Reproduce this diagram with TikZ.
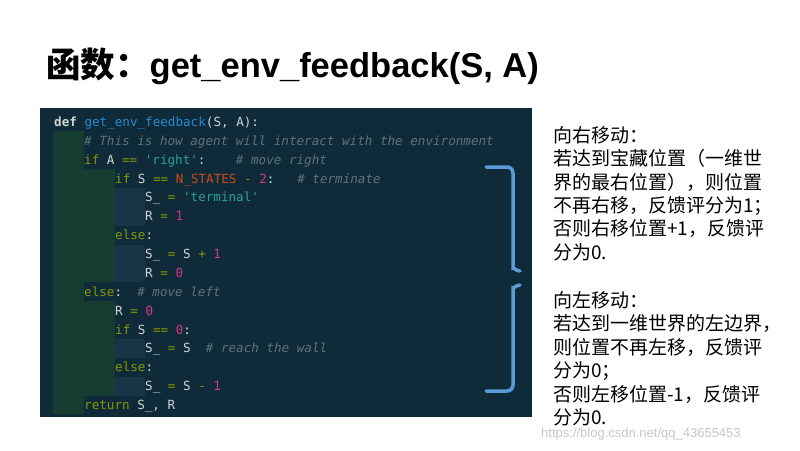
\documentclass[tikz,border=0pt]{standalone}
\usepackage{fontspec}
\setmainfont{Liberation Sans}
\setmonofont{DejaVu Sans Mono}
\newfontfamily\cjk{Noto Sans CJK SC}
\definecolor{bgc}{HTML}{0F2B3A}
\definecolor{gcol}{HTML}{173D33}
\definecolor{bcol}{HTML}{1A3447}
\definecolor{kw}{HTML}{859900}
\definecolor{fn}{HTML}{268BD2}
\definecolor{strc}{HTML}{2AA198}
\definecolor{numc}{HTML}{D33682}
\definecolor{cmt}{HTML}{5E737A}
\definecolor{cst}{HTML}{CB4B16}
\definecolor{txt}{HTML}{D0D6D6}
\definecolor{brc}{HTML}{5B9BD5}
\newcommand\Kw[1]{\textcolor{kw}{#1}}
\newcommand\Fn[1]{\textcolor{fn}{#1}}
\newcommand\St[1]{\textcolor{strc}{#1}}
\newcommand\Nm[1]{\textcolor{numc}{#1}}
\newcommand\Cm[1]{\textcolor{cmt}{\itshape #1}}
\newcommand\Cs[1]{\textcolor{cst}{#1}}
\begin{document}
\begin{tikzpicture}[x=1pt,y=-1pt,
  code/.style={anchor=base west,inner sep=0pt,text=txt,font=\ttfamily\fontsize{12.6}{14}\selectfont},
  rt/.style={anchor=base west,inner sep=0pt,font=\cjk\fontsize{19}{22}\selectfont},
  brace/.style={draw=brc,line width=3.5pt,rounded corners=6pt,line cap=round}]
\useasboundingbox (0,0) rectangle (800,450);
\fill[white] (0,0) rectangle (800,450);
\node[anchor=base west,inner sep=0pt,font=\bfseries\fontsize{34.5}{38}\selectfont] (title) at (46,77) {{\cjk\bfseries 函数：}get\_env\_feedback(S, A)};
\fill[bgc] (40,108) rectangle (532,417);
% indent guides
\fill[gcol] (53,{122+18.87-9.4}) rectangle (84,{122+15*18.87+9.4});
\fill[gcol] (84,{122+3*18.87-9.4}) rectangle (115,{122+8*18.87+9.4});
\fill[gcol] (84,{122+10*18.87-9.4}) rectangle (115,{122+14*18.87+9.4});
\fill[bcol] (115,{122+4*18.87-9.4}) rectangle (145,{122+5*18.87+9.4});
\fill[bcol] (115,{122+7*18.87-9.4}) rectangle (145,{122+8*18.87+9.4});
\fill[bcol] (115,{122+12*18.87-9.4}) rectangle (145,{122+12*18.87+9.4});
\fill[bcol] (115,{122+14*18.87-9.4}) rectangle (145,{122+14*18.87+9.4});
\node[code] (l1) at (54,{122+0*18.87+4.5}) {\textbf{def}~\Fn{get\_env\_feedback}(S,~A):};
\node[code] (l2) at (84,{122+1*18.87+4.5}) {\Cm{\#~This~is~how~agent~will~interact~with~the~environment}};
\node[code] (l3) at (84,{122+2*18.87+4.5}) {\Kw{if}~A~\Kw{==}~\St{'right'}:~~~~\Cm{\#~move~right}};
\node[code] (l4) at (115,{122+3*18.87+4.5}) {\Kw{if}~S~\Kw{==}~\Cs{N\_STATES}~\Kw{-}~\Nm{2}:~~~\Cm{\#~terminate}};
\node[code] (l5) at (145,{122+4*18.87+4.5}) {S\_~\Kw{=}~\St{'terminal'}};
\node[code] (l6) at (145,{122+5*18.87+4.5}) {R~\Kw{=}~\Nm{1}};
\node[code] (l7) at (115,{122+6*18.87+4.5}) {\Kw{else}:};
\node[code] (l8) at (145,{122+7*18.87+4.5}) {S\_~\Kw{=}~S~\Kw{+}~\Nm{1}};
\node[code] (l9) at (145,{122+8*18.87+4.5}) {R~\Kw{=}~\Nm{0}};
\node[code] (l10) at (84,{122+9*18.87+4.5}) {\Kw{else}:~~\Cm{\#~move~left}};
\node[code] (l11) at (115,{122+10*18.87+4.5}) {R~\Kw{=}~\Nm{0}};
\node[code] (l12) at (115,{122+11*18.87+4.5}) {\Kw{if}~S~\Kw{==}~\Nm{0}:};
\node[code] (l13) at (145,{122+12*18.87+4.5}) {S\_~\Kw{=}~S~~\Cm{\#~reach~the~wall}};
\node[code] (l14) at (115,{122+13*18.87+4.5}) {\Kw{else}:};
\node[code] (l15) at (145,{122+14*18.87+4.5}) {S\_~\Kw{=}~S~\Kw{-}~\Nm{1}};
\node[code] (l16) at (84,{122+15*18.87+4.5}) {\Kw{return}~S\_,~R};
% braces
\draw[brace] (486,167) -- (513,167) -- (513,262) to[out=-90,in=180] (520,271);
\draw[brace] (486,391) -- (513,391) -- (513,294) to[out=90,in=180] (520,285);
% right text
\node[rt] (r1) at (553,142) {向右移动：};
\node[rt] (r2) at (553,165) {若达到宝藏位置（一维世};
\node[rt] (r3) at (553,189) {界的最右位置），则位置};
\node[rt] (r4) at (553,212) {不再右移，反馈评分为1；};
\node[rt] (r5) at (553,235) {否则右移位置+1，反馈评};
\node[rt] (r6) at (553,259) {分为0.};
\node[rt] (r7) at (553,307) {向左移动：};
\node[rt] (r8) at (553,330) {若达到一维世界的左边界，};
\node[rt] (r9) at (553,354) {则位置不再左移，反馈评};
\node[rt] (r10) at (553,377) {分为0；};
\node[rt] (r11) at (553,401) {否则左移位置-1，反馈评};
\node[rt] (r12) at (553,424) {分为0.};
\node[anchor=base west,inner sep=0pt,text=black!22,font=\fontsize{13}{15}\selectfont] (wm) at (541,437) {https://blog.csdn.net/qq\_43655453};
\end{tikzpicture}
\end{document}
